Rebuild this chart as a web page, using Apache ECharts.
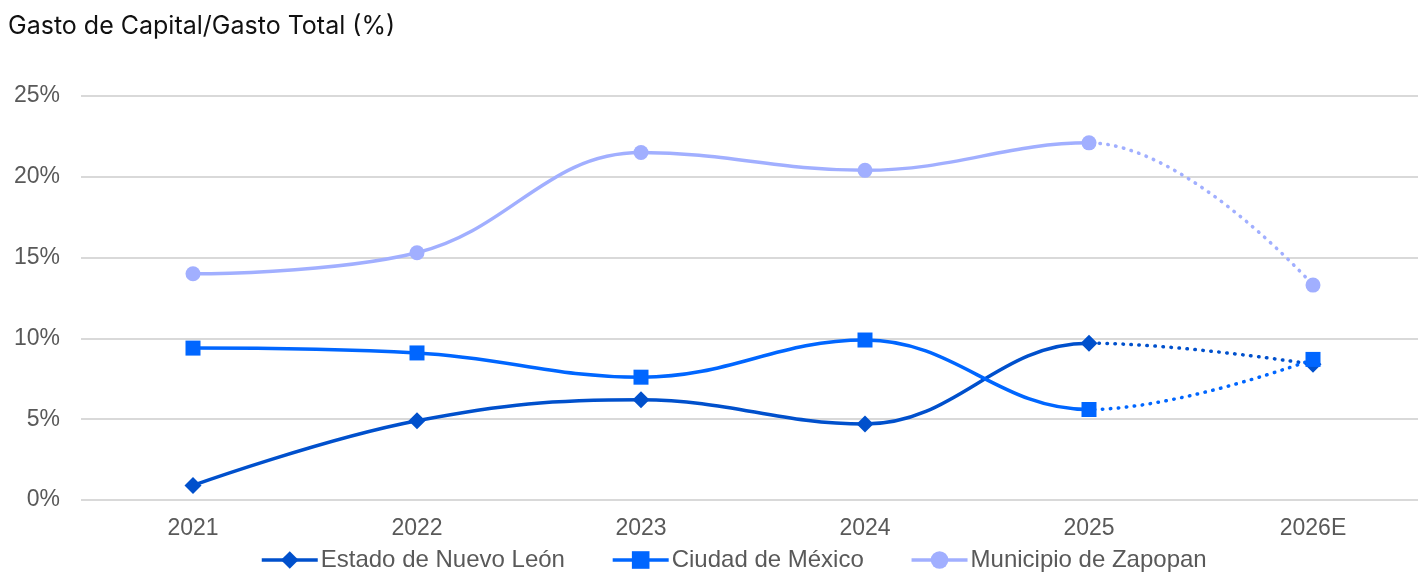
<!DOCTYPE html>
<html><head><meta charset="utf-8">
<script src="https://cdn.jsdelivr.net/npm/echarts@6/dist/echarts.min.js"></script>
<style>html,body{margin:0;padding:0;background:#fff}#c{width:1418px;height:572px}</style>
</head><body><div id="c"></div>
<script>
const categories = ['2021','2022','2023','2024','2025','2026E'];
const nuevoLeon = [0.9, 4.9, 6.2, 4.7, 9.7, 8.4];
const cdmx = [9.4, 9.1, 7.6, 9.9, 5.6, 8.7];
const zapopan = [14.0, 15.3, 21.5, 20.4, 22.1, 13.3];
const yTicks = [0, 5, 10, 15, 20, 25];
const names = ['Estado de Nuevo León','Ciudad de México','Municipio de Zapopan'];
const colors = ['#0050CC','#0066FF','#A1AFFF'];
const symbols = ['diamond','rect','circle'];
const symbolSizes = [17,15,15];
const datasets = [nuevoLeon, cdmx, zapopan];
const lastActual = '2025'; // estimate (dotted) starts after this category

const W = 1418;
const chart = echarts.init(document.getElementById('c'), null, {renderer:'canvas', width:W, height:572});
const font = 'Liberation Sans, Arial, sans-serif';

function buildSeries(splitPx){
  const s = [];
  datasets.forEach((d,i)=>{
    let solidColor = colors[i], dotColor = 'rgba(0,0,0,0)';
    if (splitPx != null) {
      const o = Math.min(Math.max(splitPx / W, 0), 1);
      solidColor = new echarts.graphic.LinearGradient(0,0,W,0,[
        {offset:0,color:colors[i]},{offset:o,color:colors[i]},
        {offset:o,color:'rgba(255,255,255,0)'},{offset:1,color:'rgba(255,255,255,0)'}], true);
      dotColor = new echarts.graphic.LinearGradient(0,0,W,0,[
        {offset:0,color:'rgba(255,255,255,0)'},{offset:o,color:'rgba(255,255,255,0)'},
        {offset:o,color:colors[i]},{offset:1,color:colors[i]}], true);
    }
    s.push({
      name: names[i], type:'line', data:d, smooth:0.4,
      symbol: symbols[i], symbolSize: symbolSizes[i],
      lineStyle:{width:3.5, color: solidColor},
      itemStyle:{color: colors[i]},
      z: 4 + i
    });
    s.push({
      name: names[i], type:'line', data:d, smooth:0.4,
      showSymbol:false, symbol:'none',
      lineStyle:{width:3.5, color: dotColor, type:[0.5,7.5], cap:'round'},
      itemStyle:{color: colors[i]},
      z: 3 + i
    });
  });
  return s;
}

chart.setOption({
  animation:false,
  backgroundColor:'#fff',
  title:{text:'Gasto de Capital/Gasto Total (%)', left:3, top:9,
    textStyle:{fontFamily:'Inter, Liberation Sans, Arial, sans-serif', fontSize:25, fontWeight:'normal', color:'#111'}},
  grid:{left:81, top:96, width:1344, height:404, containLabel:false, outerBoundsMode:'none'},
  legend:{data:names, left:255, top:543, itemWidth:56, itemHeight:22, itemGap:46,
    lineStyle:{width:3.5},
    textStyle:{fontFamily:font, fontSize:24, color:'#595959', padding:[0,0,0,-2]}},
  xAxis:{type:'category', data:categories, boundaryGap:true,
    axisLine:{show:false}, axisTick:{show:false},
    axisLabel:{fontFamily:font, fontSize:23, color:'#595959', margin:17}},
  yAxis:{type:'value', min:yTicks[0], max:yTicks[yTicks.length-1], interval:5,
    axisLine:{show:false}, axisTick:{show:false},
    splitLine:{lineStyle:{color:'#D9D9D9', width:2}},
    axisLabel:{fontFamily:font, fontSize:23, color:'#595959', margin:21, formatter:v=>v+'%'}},
  series: buildSeries(null)
});
const splitPx = chart.convertToPixel({xAxisIndex:0}, lastActual);
chart.setOption({series: buildSeries(splitPx)});
</script></body></html>
